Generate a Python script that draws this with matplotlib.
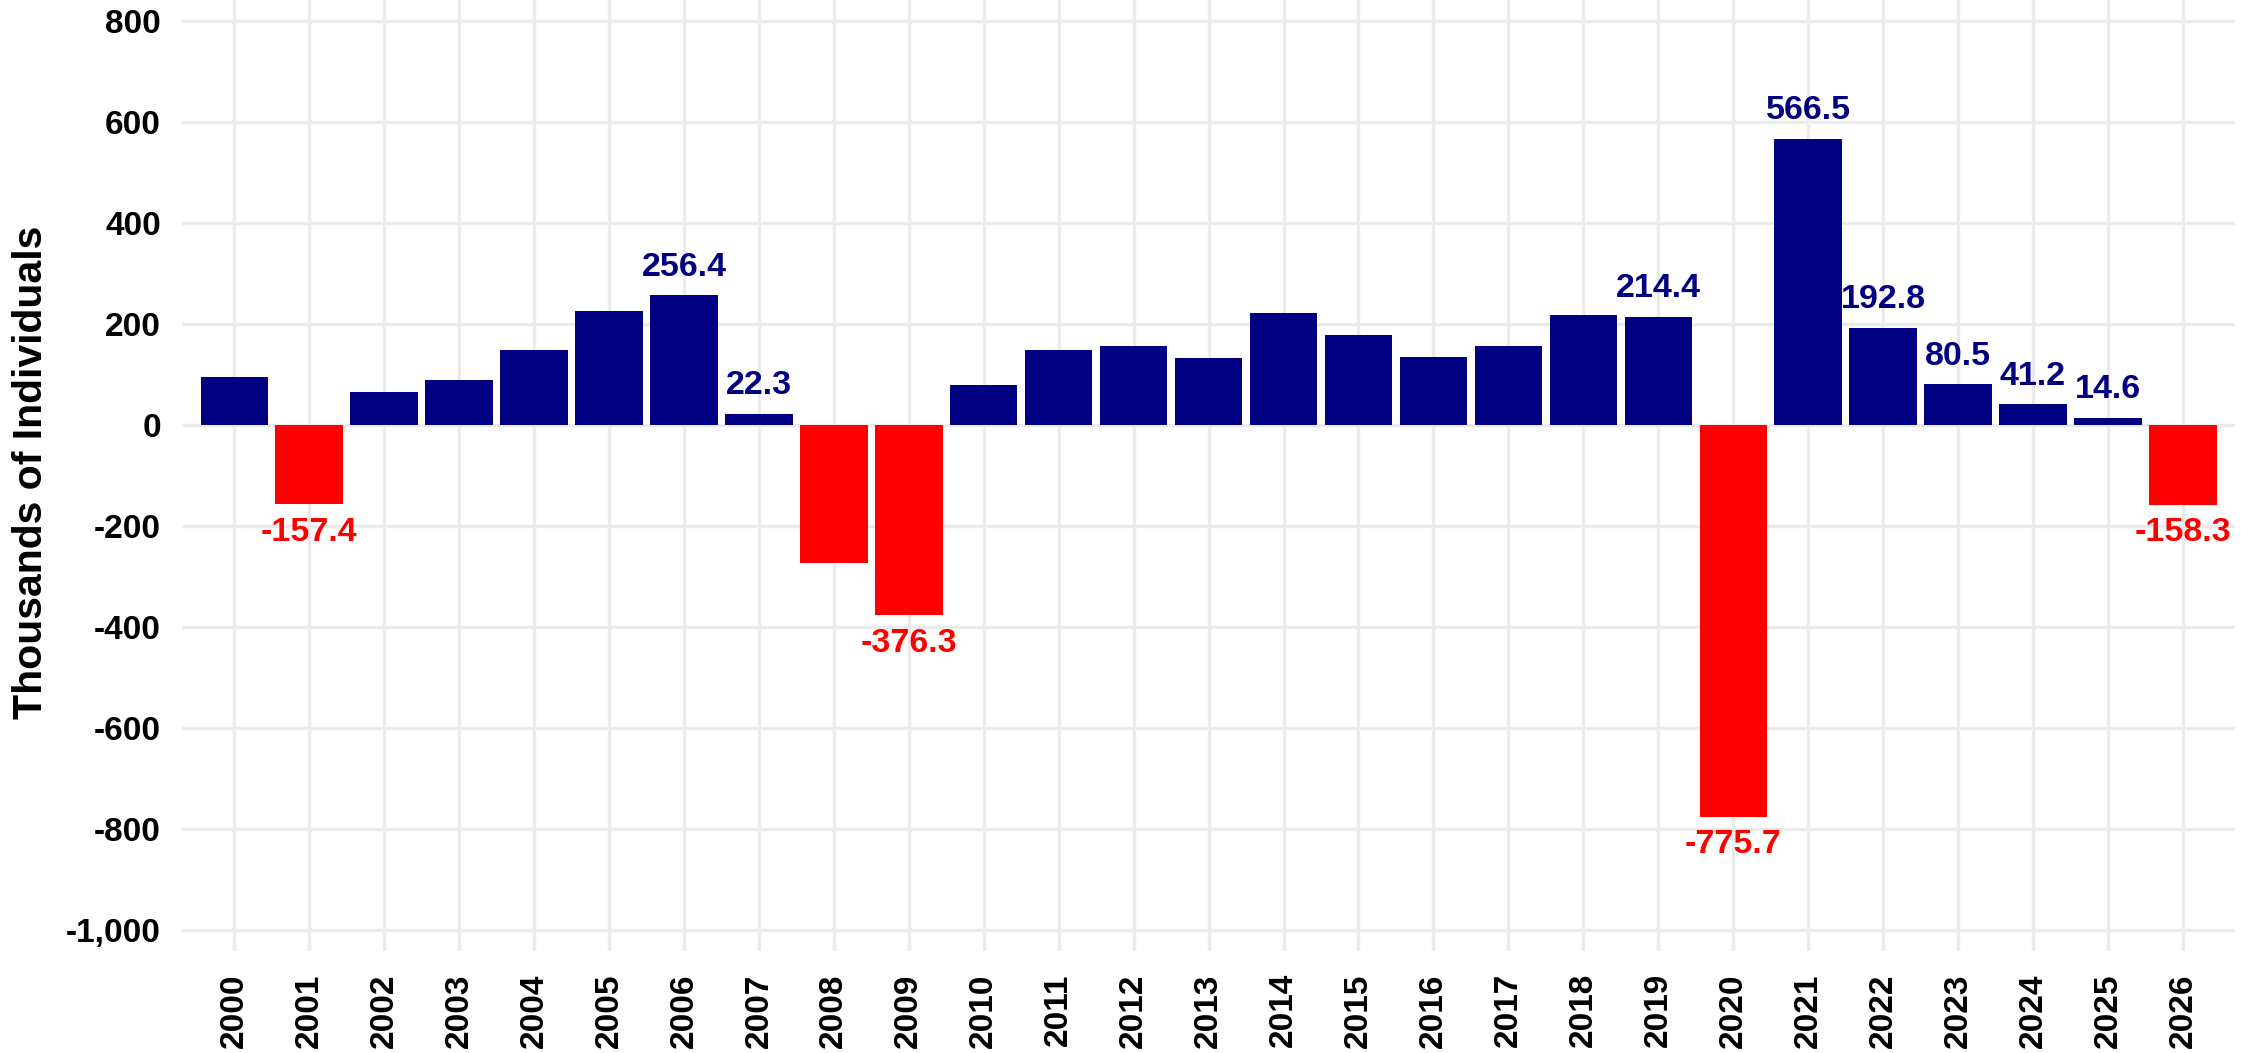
import matplotlib
matplotlib.use("Agg")
import matplotlib.pyplot as plt
from matplotlib.ticker import FuncFormatter

plt.rcParams['font.family'] = ['Liberation Sans', 'DejaVu Sans']
plt.rcParams['font.weight'] = 'bold'

# ---- data ----
years = list(range(2000, 2027))
values = [95.6, -157.4, 65.5, 89.7, 148.7, 226.0, 256.4, 22.3, -273.0, -376.3,
          79.0, 148.0, 157.0, 133.0, 222.0, 178.0, 135.0, 157.0, 217.0, 214.4,
          -775.7, 566.5, 192.8, 80.5, 41.2, 14.6, -158.3]
# which bars carry a value label
labelled = [2001, 2006, 2007, 2009, 2019, 2020, 2021, 2022, 2023, 2024, 2025, 2026]
y_ticks = [-1000, -800, -600, -400, -200, 0, 200, 400, 600, 800]

POS = "#000080"
NEG = "#FF0000"
GRID = "#EBEBEB"

fig = plt.figure(figsize=(22.58, 10.53), dpi=100)
ax = fig.add_axes([0.0805, 0.0969, 0.9095, 0.9031])

x = list(range(len(years)))
colors = [POS if v >= 0 else NEG for v in values]
ax.bar(x, values, width=0.9, color=colors, zorder=3)

for xi, yr, v, c in zip(x, years, values, colors):
    if yr not in labelled:
        continue
    if v >= 0:
        ax.annotate(f"{v:.1f}", xy=(xi, v), xytext=(0, 9), textcoords="offset points",
                    ha="center", va="bottom", fontsize=24.5, fontweight="bold", color=c, zorder=4)
    else:
        ax.annotate(f"{v:.1f}", xy=(xi, v), xytext=(0, -9), textcoords="offset points",
                    ha="center", va="top", fontsize=24.5, fontweight="bold", color=c, zorder=4)

ax.set_xlim(-0.7, len(years) - 0.3)
ax.set_ylim(-1041, 841)
ax.set_xticks(x)
ax.set_xticklabels([str(y) for y in years], rotation=90, fontsize=24, fontweight="bold")
ax.set_yticks(y_ticks)
ax.yaxis.set_major_formatter(FuncFormatter(lambda v, p: f"{int(v):,}".replace("\u2212", "-")))
for lbl in ax.get_yticklabels():
    lbl.set_fontsize(24)
    lbl.set_fontweight("bold")
ax.tick_params(axis="both", length=0, colors="black")
ax.tick_params(axis="x", pad=16)
ax.tick_params(axis="y", pad=15)

ax.grid(True, color=GRID, linewidth=2.4, zorder=0)
for s in ax.spines.values():
    s.set_visible(False)

ax.set_ylabel("Thousands of Individuals", fontsize=29.5, fontweight="bold")
ax.yaxis.set_label_coords(-0.064, 0.503)

fig.savefig("out.png", dpi=100)
